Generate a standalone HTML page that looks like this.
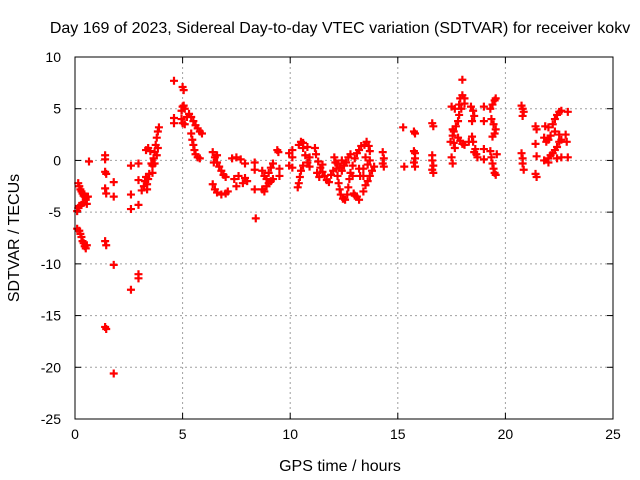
<!DOCTYPE html>
<html><head><meta charset="utf-8"><style>
html,body{margin:0;padding:0;background:#fff;}
svg{display:block;font-family:"Liberation Sans",sans-serif;}
</style></head><body>
<svg id="chart" width="640" height="480" viewBox="0 0 640 480" xmlns="http://www.w3.org/2000/svg">
<rect x="0" y="0" width="640" height="480" fill="#fff"/>
<text x="340" y="33" font-size="16" text-anchor="middle">Day 169 of 2023, Sidereal Day-to-day VTEC variation (SDTVAR) for receiver kokv</text>
<text x="340" y="471" font-size="16" text-anchor="middle">GPS time / hours</text>
<text x="0" y="0" font-size="16" text-anchor="middle" transform="translate(19,238) rotate(-90)">SDTVAR / TECUs</text>
<g id="grid"></g><g id="ticks"></g><g id="marks"></g>
<rect x="75" y="57" width="538" height="362" fill="none" stroke="#000" stroke-width="1"/>
</svg>
<script>
const xTicks=[0,5,10,15,20,25];
const yTicks=[10,5,0,-5,-10,-15,-20,-25];
const hours=[0.15,0.2,0.25,0.3,0.35,0.4,0.45,0.5,0.55,
0.1,0.15,0.2,0.3,0.4,0.5,0.6,0.55,
0.1,0.2,0.25,0.3,0.35,0.4,0.45,0.5,0.55,0.65,
1.4,1.4,1.4,1.45,1.4,1.45,1.4,1.45,1.4,1.45,1.8,1.8,1.8,1.8,
2.6,2.6,2.6,2.6,2.95,2.95,2.95,2.95,2.95,
3.2,3.25,3.3,3.35,3.4,3.45,3.3,3.4,3.5,3.6,3.65,3.7,3.75,3.8,3.85,3.9,3.7,3.8,3.85,3.6,3.55,3.1,3.35,
4.6,4.6,4.6,5.0,5.05,4.95,5.0,5.05,5.1,4.95,5.0,5.1,5.2,
5.3,5.4,5.5,5.6,5.7,5.8,5.9,5.4,5.45,5.5,5.55,5.6,5.7,5.8,
6.4,6.5,6.6,6.7,6.8,6.9,7.0,6.45,6.6,6.4,6.5,6.6,6.8,7.0,7.1,
7.3,7.5,7.7,7.9,7.4,7.6,7.8,7.5,7.9,8.0,
8.35,8.35,8.35,8.4,
8.7,8.8,8.9,9.0,9.1,9.2,8.7,8.8,8.9,9.0,9.1,9.2,9.4,9.45,9.5,9.5,
10.1,10.1,10.1,9.95,9.95,
10.4,10.5,10.6,10.7,10.8,10.6,10.5,10.45,10.4,10.35,10.8,10.9,10.9,10.6,
11.15,11.2,11.3,11.4,11.5,11.6,11.7,11.8,11.25,11.35,11.5,11.9,12.0,
12.05,12.1,12.15,12.2,12.25,12.3,12.35,12.45,12.55,12.65,12.7,12.75,12.8,12.9,13.0,13.1,13.2,13.3,12.3,12.4,12.5,12.6,12.7,12.8,12.95,13.1,13.2,13.0,13.2,13.25,12.9,12.4,12.2,
13.45,13.55,13.65,13.7,13.5,13.4,13.6,13.7,13.5,13.6,13.7,13.8,13.4,13.9,13.4,
14.3,14.35,14.3,14.35,15.25,15.3,
15.75,15.8,15.8,15.75,15.75,15.8,15.8,
16.6,16.65,16.6,16.6,16.65,16.6,16.65,
18.0,17.5,17.65,17.85,17.9,18.0,18.1,18.1,17.95,17.85,17.8,17.7,17.6,17.55,17.55,17.6,17.65,17.5,17.55,17.8,17.9,18.0,18.1,18.3,18.4,18.5,18.55,18.45,18.45,18.5,18.6,18.65,18.55,17.45,18.7,
19.0,19.0,19.0,19.0,
19.3,19.4,19.5,19.55,19.35,19.45,19.55,19.4,19.5,19.3,19.35,19.4,19.45,19.5,19.55,19.6,
20.75,20.8,20.85,20.8,20.75,20.8,20.8,20.85,
21.4,21.45,21.4,21.45,21.4,21.45,
21.85,22.0,22.2,22.3,22.4,22.5,22.6,22.9,21.8,21.9,22.0,22.1,22.3,22.5,22.8,22.85,21.8,22.0,22.1,22.2,22.3,22.4,22.5,22.6,22.4,22.6,22.9,22.0];
const values=[-2.2,-2.5,-2.8,-3.0,-3.2,-3.4,-3.5,-3.6,-3.5,
-4.9,-4.6,-4.4,-4.3,-4.1,-3.8,-3.5,-4.2,
-6.6,-6.8,-7.1,-7.4,-7.8,-8.0,-8.3,-8.5,-8.2,-0.1,
0.5,0.1,-1.1,-1.3,-2.7,-3.2,-7.8,-8.2,-16.1,-16.3,-2.1,-3.5,-10.1,-20.6,
-0.5,-3.3,-4.7,-12.5,-0.3,-1.9,-4.3,-11.0,-11.4,
-2.5,-2.0,-1.6,-2.3,-1.8,-1.3,1.0,1.2,0.9,-0.5,0.2,0.8,1.5,2.2,2.8,3.2,-0.3,0.5,1.2,-1.2,-0.3,-2.9,-2.8,
7.7,4.1,3.6,7.1,6.8,4.8,5.2,5.3,5.0,4.0,3.6,3.5,4.2,
4.5,4.2,3.8,3.4,3.1,2.8,2.6,2.6,2.0,1.5,1.0,0.6,0.3,0.2,
0.8,0.3,-0.2,-0.6,-1.0,-1.4,-1.6,-0.2,0.5,-2.3,-2.8,-3.1,-3.3,-3.2,-3.0,
0.2,0.3,0.1,-0.3,-1.8,-1.5,-2.2,-2.5,-1.7,-2.0,
-0.2,-0.9,-2.8,-5.6,
-1.0,-1.5,-1.8,-1.2,-0.7,-0.3,-2.8,-3.0,-2.5,-2.2,-2.0,-1.8,1.0,0.8,-0.8,-1.5,
1.0,0.3,-0.7,0.7,-0.5,
1.5,1.8,1.2,0.5,-0.2,-0.5,-1.0,-1.6,-2.2,-2.6,1.3,0.3,-0.6,1.7,
1.2,0.6,-0.1,-0.7,-1.1,-1.5,-1.9,-2.1,-1.2,-1.6,-0.4,-1.4,-1.0,
0.3,-0.2,-0.8,-1.5,-2.2,-2.8,-3.3,-3.7,-3.8,-3.3,-2.6,-1.8,-1.2,-0.5,0.2,0.7,1.0,1.4,-0.7,-1.0,-0.5,-0.2,0.3,0.6,-3.2,-3.5,-3.8,-3.4,-0.8,-1.5,-1.5,0.0,-0.3,
1.5,1.8,1.4,0.9,0.3,-0.8,-0.4,0.0,-2.4,-2.0,-1.5,-1.0,-3.0,-0.6,-1.5,
0.8,0.2,-0.3,-0.6,3.2,-0.6,
2.8,2.6,0.7,0.9,-0.2,0.2,-0.6,
3.6,3.3,0.5,0.0,-0.5,-0.9,-1.2,
7.8,5.2,5.0,5.4,6.0,6.3,6.0,5.5,5.0,4.4,3.8,3.3,2.8,2.4,3.0,1.7,1.2,0.3,-0.3,2.2,1.9,1.6,1.5,1.8,5.2,4.8,4.3,3.8,2.3,1.8,1.1,0.6,0.8,1.8,0.3,
5.2,3.8,1.1,0.1,
5.0,5.4,5.8,6.0,4.0,3.5,3.0,2.3,2.6,0.9,0.3,-0.3,-0.8,-1.2,-1.4,0.6,
5.3,5.0,4.7,4.3,0.7,0.2,-0.3,-0.9,
3.3,3.0,1.6,0.4,-1.3,-1.6,
3.3,3.2,3.5,4.0,4.4,4.7,4.8,4.7,2.2,1.8,2.0,2.4,2.8,2.5,2.5,1.8,0.0,0.2,0.5,0.7,1.0,1.3,1.8,2.0,0.2,0.3,0.3,-0.2];
const NS='http://www.w3.org/2000/svg';
const L=75,R=613,T=57,B=419;
function xs(h){return L+(h-0)/(25-0)*(R-L);}
function ys(v){return B-(v-(-25))/(10-(-25))*(B-T);}
const grid=document.getElementById('grid'),ticks=document.getElementById('ticks'),marks=document.getElementById('marks');
function mk(tag,attrs,parent){const e=document.createElementNS(NS,tag);for(const k in attrs)e.setAttribute(k,attrs[k]);parent.appendChild(e);return e;}
xTicks.forEach(t=>{
  const x=xs(t);
  if(t>0&&t<25){const g=mk('line',{x1:x,x2:x,y1:T,y2:B,stroke:'#a0a0a0','stroke-dasharray':'2,3'},grid);
  
  }
  mk('line',{x1:x,x2:x,y1:B,y2:B-6,stroke:'#000'},ticks);
  mk('line',{x1:x,x2:x,y1:T,y2:T+6,stroke:'#000'},ticks);
  const tx=mk('text',{x:x,y:B+20,'font-size':'14','text-anchor':'middle'},ticks);
  tx.textContent=t;
  
  
});
yTicks.forEach(t=>{
  const y=ys(t);
  if(t<10&&t>-25){const g=mk('line',{x1:L,x2:R,y1:y,y2:y,stroke:'#a0a0a0','stroke-dasharray':'2,3'},grid);
  
  }
  mk('line',{x1:L,x2:L+6,y1:y,y2:y,stroke:'#000'},ticks);
  mk('line',{x1:R,x2:R-6,y1:y,y2:y,stroke:'#000'},ticks);
  const tx=mk('text',{x:L-14,y:y+5,'font-size':'14','text-anchor':'end'},ticks);
  tx.textContent=t;
  
  
});
hours.forEach((h,i)=>{
  const x=xs(h),y=ys(values[i]);
  const p=mk('path',{d:`M${x-4},${y}H${x+4}M${x},${y-4}V${y+4}`,stroke:'#ff0000','stroke-width':'2.2',fill:'none'},marks);
  
  
});
</script>
</body></html>
